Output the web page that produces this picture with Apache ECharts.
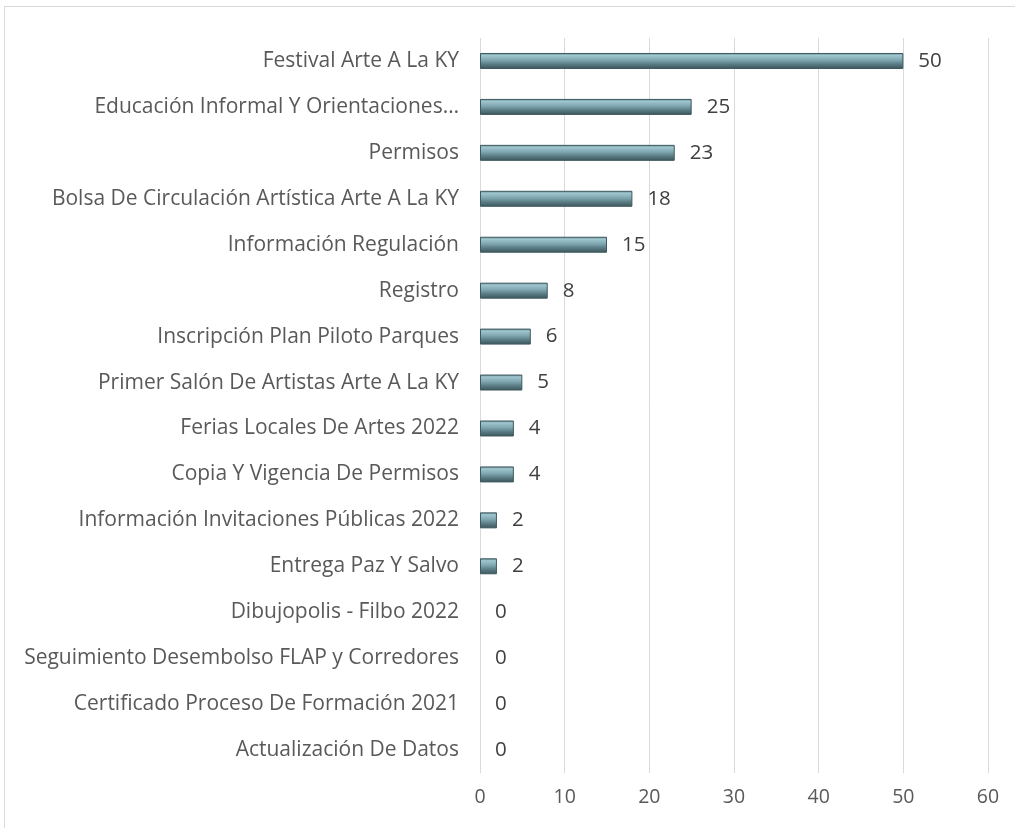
<!DOCTYPE html>
<html>
<head>
<meta charset="utf-8">
<script src="https://cdn.jsdelivr.net/npm/echarts@6/dist/echarts.min.js"></script>
<style>
  html, body { margin: 0; padding: 0; background: #fff; }
  #main { position: absolute; left: 4px; top: 6px; width: 1015px; height: 828px; border: 1px solid #d9d9d9; box-sizing: border-box; }
</style>
</head>
<body>
<div id="main"></div>
<script>
var categories = [
  'Festival Arte A La KY',
  'Educación Informal Y Orientaciones…',
  'Permisos',
  'Bolsa De Circulación Artística Arte A La KY',
  'Información Regulación',
  'Registro',
  'Inscripción Plan Piloto Parques',
  'Primer Salón De Artistas Arte A La KY',
  'Ferias Locales De Artes 2022',
  'Copia Y Vigencia De Permisos',
  'Información Invitaciones Públicas 2022',
  'Entrega Paz Y Salvo',
  'Dibujopolis - Filbo 2022',
  'Seguimiento Desembolso FLAP y Corredores',
  'Certificado Proceso De Formación 2021',
  'Actualización De Datos'
];
var values = [50, 25, 23, 18, 15, 8, 6, 5, 4, 4, 2, 2, 0, 0, 0, 0];
var xTicks = [0, 10, 20, 30, 40, 50, 60];

var chart = echarts.init(document.getElementById('main'));
var font = '"Open Sans", "Noto Sans", sans-serif';

// zero-value bars get no outline so only the label shows
var barData = values.map(function (v) {
  return v === 0 ? { value: v, itemStyle: { color: 'rgba(0,0,0,0)', borderWidth: 0 } } : v;
});

chart.setOption({
  animation: false,
  grid: { left: 475, right: 30, top: 31, bottom: 60 },
  xAxis: {
    type: 'value',
    min: xTicks[0],
    max: xTicks[xTicks.length - 1],
    interval: 10,
    axisLine: { show: false },
    axisTick: { show: false },
    splitLine: { show: true, lineStyle: { color: '#d9d9d9', width: 1 } },
    axisLabel: { color: '#595959', fontSize: 19.5, fontFamily: font, margin: 14 }
  },
  yAxis: {
    type: 'category',
    inverse: true,
    data: categories,
    axisLine: { show: false },
    axisTick: { show: false },
    axisLabel: { color: '#595959', fontSize: 21, fontFamily: font, margin: 21 }
  },
  series: [{
    type: 'bar',
    data: barData,
    barWidth: 16,
    itemStyle: {
      color: new echarts.graphic.LinearGradient(0, 0, 0, 1, [
        { offset: 0, color: '#5f8189' },
        { offset: 0.15, color: '#a0c6cf' },
        { offset: 0.45, color: '#7ea6b0' },
        { offset: 0.7, color: '#5a7c84' },
        { offset: 1, color: '#3b5459' }
      ]),
      borderColor: '#3e5a60',
      borderWidth: 1
    },
    label: {
      show: true,
      position: 'right',
      distance: 15,
      color: '#404040',
      fontSize: 20.5,
      fontFamily: font
    }
  }]
});
</script>
</body>
</html>
